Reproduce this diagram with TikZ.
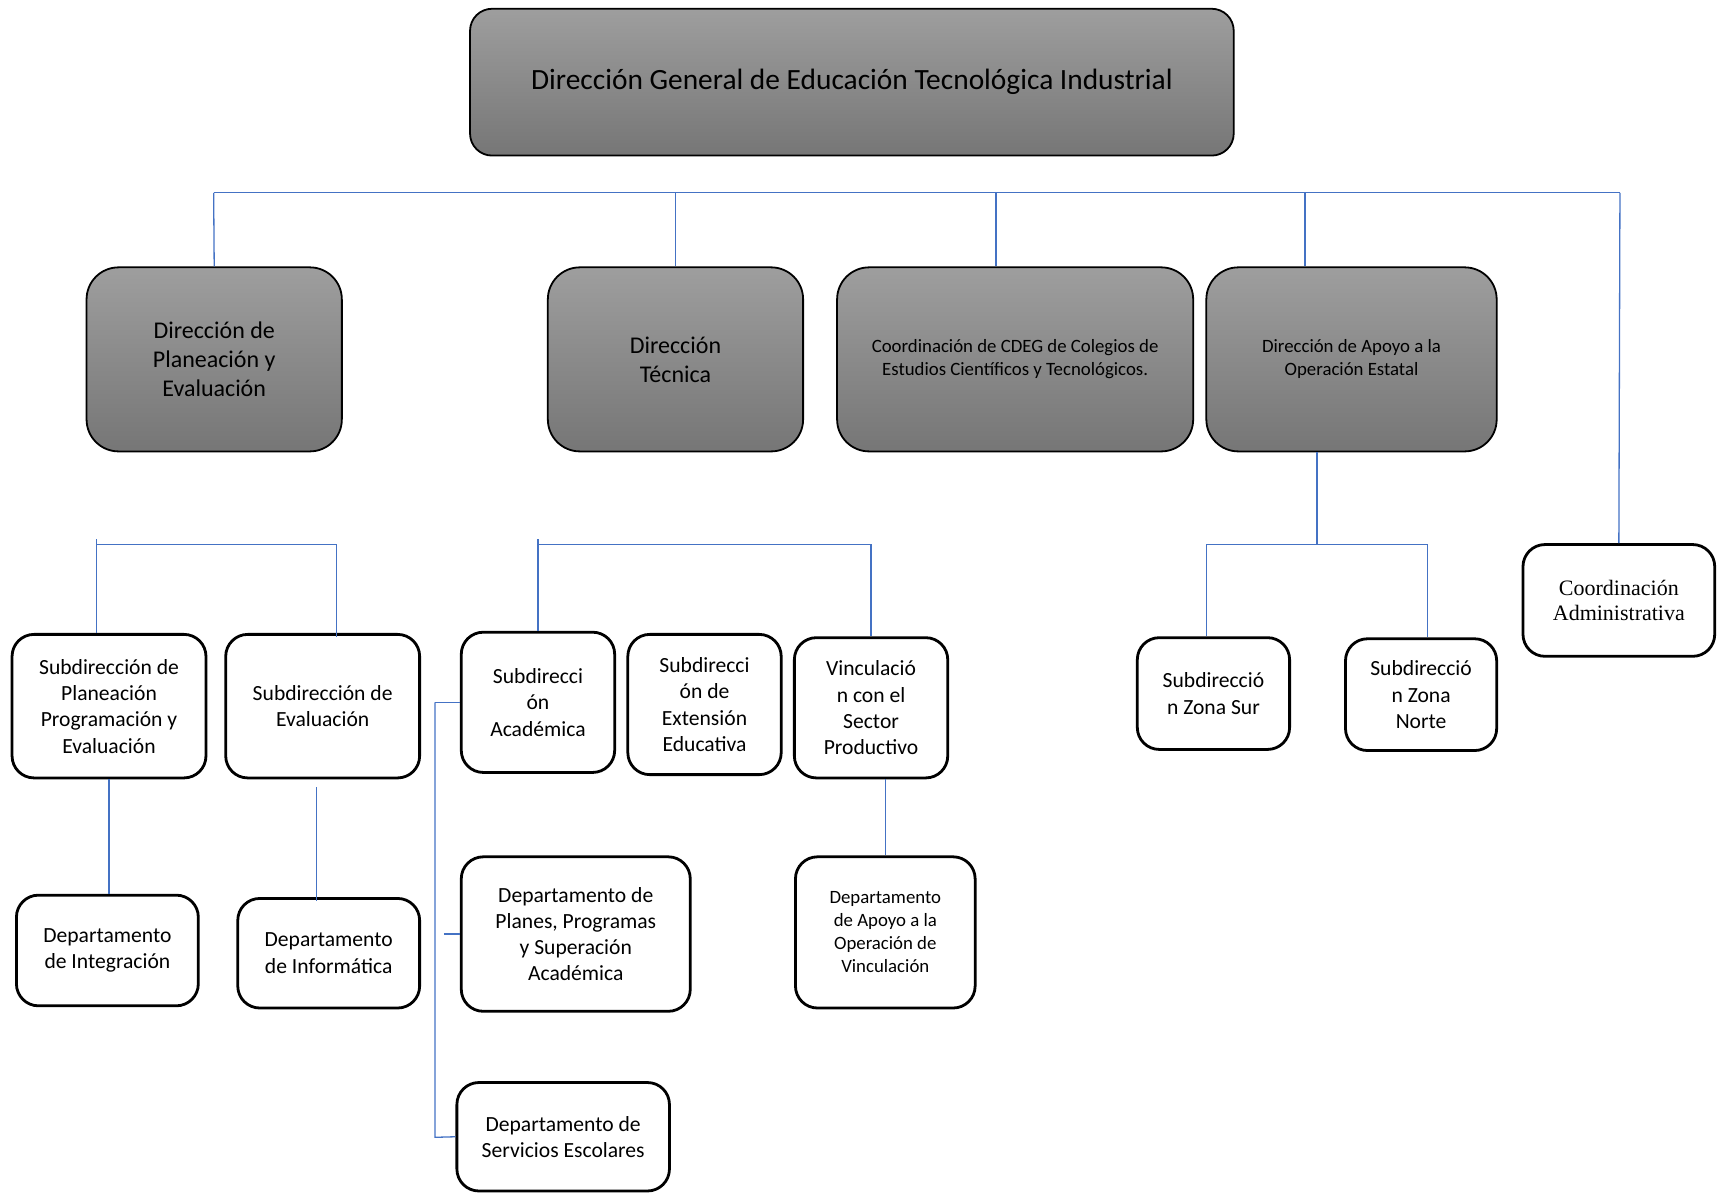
\documentclass[tikz,border=0pt]{standalone}
\usepackage{fontspec}
\setmainfont{Carlito}
\newfontfamily\timesf{Liberation Serif}
\definecolor{gtop}{RGB}{158,158,158}
\definecolor{gbot}{RGB}{118,118,118}
\definecolor{lblue}{RGB}{68,114,196}
\newcommand\bx[7]{\node[#6, minimum width={(#4-#2)*0.54785pt}, minimum height={(#5-#3)*0.54785pt}] (#1) at ({(#2+#4)/2},{(#3+#5)/2}) {#7};}
\tikzset{
 conn/.style={draw=lblue, line width=0.65pt},
 graybox/.style={draw=black, line width=0.9pt, rounded corners=16pt, top color=gtop, bottom color=gbot, align=center, inner sep=1pt, font={\fontsize{12}{14.5}\selectfont}},
 smallgray/.style={graybox, font={\fontsize{9.4}{11.5}\selectfont}},
 topbox/.style={graybox, rounded corners=11pt, font={\fontsize{14.7}{17}\selectfont}},
 whitebox/.style={draw=black, line width=1.4pt, rounded corners=11pt, fill=white, align=center, inner sep=1pt, font={\fontsize{10.8}{13.15}\selectfont}},
 smallwhite/.style={whitebox, font={\fontsize{9.4}{11.5}\selectfont}},
 timeswhite/.style={whitebox, font={\timesf\fontsize{11}{12.6}\selectfont}},
}
\begin{document}
\begin{tikzpicture}[x=0.54785pt, y=-0.54785pt]
\useasboundingbox (0,0) rectangle (1568,1089);
% level 1
\bx{top}{429}{8}{1126}{142}{topbox}{Dirección General de Educación Tecnológica Industrial}
% level 2
\bx{dpe}{79}{244}{312}{412}{graybox}{Dirección de\\Planeación y\\Evaluación}
\bx{dte}{500}{244}{733}{412}{graybox}{Dirección\\Técnica}
\bx{cdeg}{764}{244}{1089}{412}{smallgray}{Coordinación de CDEG de Colegios de\\Estudios Científicos y Tecnológicos.}
\bx{dao}{1101}{244}{1366}{412}{smallgray}{Dirección de Apoyo a la\\Operación Estatal}
% level 3
\bx{sp1}{11}{579}{188}{710}{whitebox}{Subdirección de\\Planeación\\Programación y\\Evaluación}
\bx{sev}{206}{579}{383}{710}{whitebox}{Subdirección de\\Evaluación}
\bx{dint}{15}{817}{181}{918}{whitebox}{Departamento\\de Integración}
\bx{dinf}{217}{820}{383}{920}{whitebox}{Departamento\\de Informática}
\bx{sac}{421}{577}{561}{705}{whitebox}{Subdirecci\\ón\\Académica}
\bx{sext}{573}{579}{713}{707}{whitebox}{Subdirecci\\ón de\\Extensión\\Educativa}
\bx{svin}{725}{582}{865}{710}{whitebox}{Vinculació\\n con el\\Sector\\Productivo}
\bx{dpla}{421}{782}{630}{923}{whitebox}{Departamento de\\Planes, Programas\\y Superación\\Académica}
\bx{dser}{417}{988}{611}{1087}{whitebox}{Departamento de\\Servicios Escolares}
\bx{dapv}{726}{782}{890}{920}{smallwhite}{Departamento\\de Apoyo a la\\Operación de\\Vinculación}
\bx{ssur}{1038}{582}{1177}{684}{whitebox}{Subdirecció\\n Zona Sur}
\bx{snor}{1228}{583}{1366}{685}{whitebox}{Subdirecció\\n Zona\\Norte}
\bx{cadm}{1390}{497}{1565}{599}{timeswhite}{Coordinación\\Administrativa}
% bus coordinates
\coordinate (b1) at (195,176);
\coordinate (b2) at (616.5,176);
\coordinate (b3) at (909,176);
\coordinate (b4) at (1191,176);
\coordinate (b5) at (1478.5,176);
\coordinate (lb1) at (88,492);
\coordinate (lb2) at (307,497);
\coordinate (mb1) at (491,492);
\coordinate (mb2) at (795,497);
\coordinate (rb0) at (1202,497);
\coordinate (rb1) at (1101,497);
\coordinate (rb2) at (1303,497);
\coordinate (br1) at (397,641);
\coordinate (br2) at (397,1038);
\coordinate (br3) at (405,852.5);
% connectors level 2
\draw[conn] (b1) -- (b5);
\draw[conn] (b1) -- (dpe.north);
\draw[conn] (b2) -- (dte.north);
\draw[conn] (b3) -- (b3 |- cdeg.north);
\draw[conn] (b4) -- (b4 |- dao.north);
\draw[conn] (b5) -- (cadm.north);
% left group
\draw[conn] (lb1) -- (lb1 |- sp1.north);
\draw[conn] (lb1 |- lb2) -- (lb2) -- ([yshift=-2pt]lb2 |- sev.north);
\draw[conn] (sp1.south) -- (sp1.south |- dint.north);
\draw[conn] ([xshift=-3pt,yshift=-4pt]sev.south) -- ([xshift=-3pt,yshift=-2pt]sev.south |- dinf.north);
% middle group
\draw[conn] (mb1) -- (mb1 |- sac.north);
\draw[conn] (mb1 |- mb2) -- (mb2) -- (svin.north);
\draw[conn] (br1) -- (sac.west);
\draw[conn] (br1) -- (br2) -- (dser.west);
\draw[conn] (br3) -- (dpla.west);
\draw[conn] (dapv.north |- svin.south) -- (dapv.north);
% right group
\draw[conn] (rb0 |- dao.south) -- (rb0);
\draw[conn] (rb1) -- (rb2);
\draw[conn] (rb1) -- (rb1 |- ssur.north);
\draw[conn] (rb2) -- (rb2 |- snor.north);
\end{tikzpicture}
\end{document}
